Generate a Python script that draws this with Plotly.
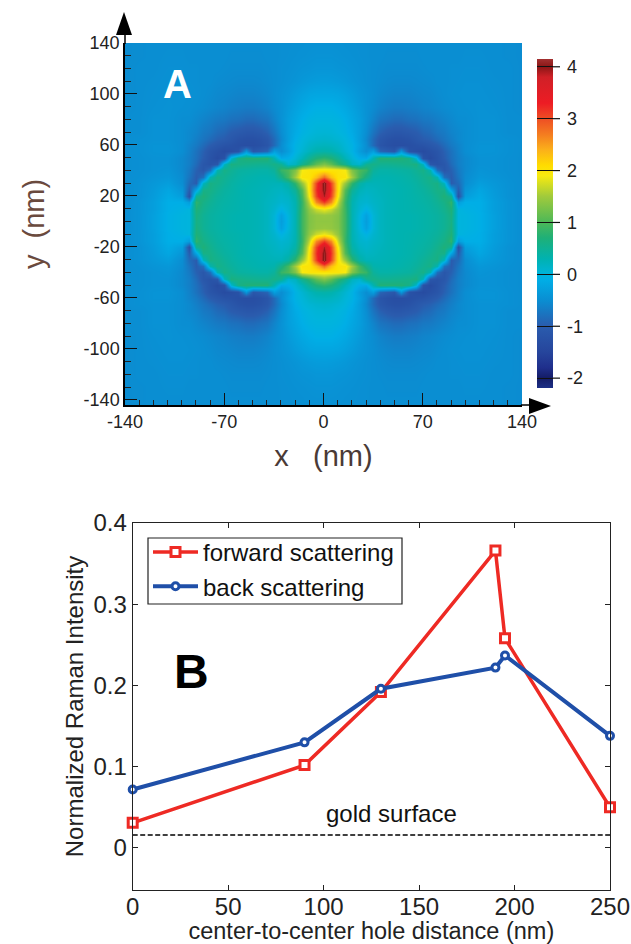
import plotly.graph_objects as go

W, H = 631, 944
FONT = "Liberation Sans"

# ---------- panel A: one quadrant of the map (mirrored in x and y)
xq = [0,5,10,15,20,25,30,35,40,45,50,55,60,65,70,75,80,85,90,95,100,110,120,130,140]
yq = [0,5,10,15,20,25,30,35,40,45,50,55,60,65,70,80,90,100,110,120,130,145]
zq = [
[1.40,1.40,1.30,0.90,0.28,0.00,-0.30,0.05,0.20,0.25,0.28,0.30,0.30,0.32,0.35,0.38,0.42,0.50,0.62,0.00,-0.02,-0.08,-0.28,-0.42,-0.50],
[1.45,1.42,1.32,0.90,0.28,0.02,-0.25,0.05,0.20,0.25,0.28,0.30,0.30,0.32,0.35,0.38,0.42,0.50,0.65,0.00,-0.02,-0.08,-0.28,-0.42,-0.50],
[1.85,1.70,1.40,0.88,0.28,0.08,-0.05,0.10,0.20,0.25,0.28,0.30,0.32,0.34,0.36,0.40,0.45,0.55,0.70,0.00,-0.05,-0.10,-0.30,-0.42,-0.50],
[3.10,2.60,1.65,0.85,0.30,0.12,0.08,0.15,0.20,0.25,0.28,0.30,0.32,0.35,0.38,0.42,0.50,0.60,0.80,-0.30,-0.10,-0.10,-0.30,-0.42,-0.50],
[3.90,3.05,1.90,0.95,0.36,0.18,0.12,0.18,0.22,0.26,0.28,0.30,0.33,0.36,0.40,0.45,0.55,0.70,0.50,-1.20,-0.30,-0.15,-0.33,-0.45,-0.50],
[4.10,3.15,2.00,1.05,0.48,0.25,0.18,0.20,0.24,0.26,0.28,0.30,0.33,0.38,0.42,0.50,0.60,0.60,-0.20,-1.00,-0.40,-0.20,-0.35,-0.45,-0.50],
[4.15,3.05,2.00,1.45,0.80,0.40,0.25,0.25,0.26,0.28,0.30,0.32,0.35,0.40,0.48,0.56,0.62,0.20,-1.00,-0.85,-0.50,-0.30,-0.38,-0.45,-0.50],
[2.80,2.30,2.00,2.00,1.50,0.95,0.60,0.33,0.30,0.30,0.32,0.34,0.38,0.44,0.52,0.60,0.30,-0.80,-1.00,-0.75,-0.52,-0.38,-0.42,-0.47,-0.50],
[2.00,2.00,2.00,1.90,1.30,1.00,0.85,0.45,0.36,0.36,0.38,0.40,0.42,0.50,0.60,0.30,-0.80,-1.10,-0.95,-0.70,-0.55,-0.42,-0.45,-0.48,-0.50],
[1.30,1.10,0.80,0.55,0.20,0.10,0.50,0.60,0.52,0.52,0.54,0.56,0.60,0.65,0.20,-1.10,-1.20,-1.10,-0.85,-0.65,-0.55,-0.45,-0.45,-0.48,-0.50],
[0.80,0.70,0.50,0.25,0.05,-0.10,-0.15,0.30,0.72,0.72,0.72,0.70,0.60,0.10,-1.20,-1.35,-1.20,-1.00,-0.80,-0.65,-0.55,-0.45,-0.45,-0.48,-0.50],
[0.35,0.32,0.22,0.08,-0.05,-0.30,-0.50,-0.30,-0.90,-1.00,-1.10,-0.40,-1.20,-1.30,-1.35,-1.25,-1.15,-0.95,-0.78,-0.62,-0.50,-0.42,-0.43,-0.47,-0.50],
[0.22,0.20,0.14,0.03,-0.05,-0.25,-0.50,-0.85,-1.15,-1.25,-1.30,-1.30,-1.28,-1.22,-1.18,-1.10,-1.00,-0.85,-0.70,-0.60,-0.50,-0.43,-0.43,-0.47,-0.50],
[0.12,0.10,0.06,0.00,-0.10,-0.30,-0.55,-0.85,-1.10,-1.20,-1.25,-1.25,-1.20,-1.10,-1.00,-0.95,-0.85,-0.75,-0.65,-0.55,-0.50,-0.45,-0.45,-0.47,-0.50],
[0.05,0.04,0.00,-0.05,-0.15,-0.30,-0.50,-0.75,-0.95,-1.05,-1.10,-1.10,-1.05,-1.00,-0.90,-0.85,-0.75,-0.70,-0.60,-0.55,-0.50,-0.45,-0.45,-0.50,-0.50],
[-0.02,-0.02,-0.04,-0.10,-0.20,-0.30,-0.45,-0.60,-0.75,-0.80,-0.85,-0.85,-0.80,-0.78,-0.72,-0.70,-0.65,-0.60,-0.55,-0.50,-0.50,-0.45,-0.45,-0.50,-0.50],
[-0.08,-0.08,-0.12,-0.18,-0.26,-0.35,-0.45,-0.52,-0.60,-0.65,-0.68,-0.68,-0.66,-0.64,-0.60,-0.58,-0.55,-0.52,-0.50,-0.48,-0.47,-0.45,-0.47,-0.50,-0.52],
[-0.20,-0.20,-0.22,-0.27,-0.33,-0.40,-0.45,-0.50,-0.55,-0.58,-0.60,-0.60,-0.60,-0.58,-0.56,-0.55,-0.52,-0.50,-0.48,-0.47,-0.46,-0.46,-0.48,-0.50,-0.52],
[-0.32,-0.33,-0.35,-0.38,-0.42,-0.45,-0.48,-0.50,-0.52,-0.54,-0.55,-0.55,-0.55,-0.54,-0.53,-0.52,-0.50,-0.50,-0.49,-0.48,-0.47,-0.47,-0.49,-0.50,-0.52],
[-0.40,-0.40,-0.42,-0.43,-0.45,-0.47,-0.48,-0.50,-0.51,-0.52,-0.52,-0.52,-0.52,-0.52,-0.51,-0.50,-0.50,-0.50,-0.49,-0.49,-0.48,-0.48,-0.50,-0.50,-0.52],
[-0.44,-0.44,-0.45,-0.46,-0.47,-0.48,-0.49,-0.50,-0.50,-0.51,-0.51,-0.51,-0.51,-0.51,-0.50,-0.50,-0.50,-0.50,-0.50,-0.50,-0.49,-0.49,-0.50,-0.51,-0.52],
[-0.47,-0.47,-0.47,-0.48,-0.48,-0.49,-0.49,-0.50,-0.50,-0.50,-0.50,-0.50,-0.50,-0.50,-0.50,-0.50,-0.50,-0.50,-0.50,-0.50,-0.50,-0.50,-0.50,-0.51,-0.52],
]
map_x = [-v for v in xq[:0:-1]] + xq
map_y = [-v for v in yq[:0:-1]] + yq
rows = [r[:0:-1] + r for r in zq]
map_z = rows[:0:-1] + rows

ZMIN, ZMAX = -2.19, 4.15
scale_stops = [
    (-2.19, "#1c2f86"), (-2.0, "#141c66"), (-1.8, "#1f2f8c"), (-1.5, "#26459c"), (-1.0, "#2a5cae"),
    (-0.5, "#0a8ed2"), (-0.1, "#00aee6"), (0.0, "#00b4dc"), (0.3, "#00b2b0"),
    (0.7, "#1eb078"), (1.0, "#4cb858"), (1.5, "#a0ca3c"), (1.9, "#f7ea10"),
    (2.1, "#ffdc00"), (2.4, "#fbb01a"), (2.7, "#f47c20"), (3.0, "#ee4e24"),
    (3.3, "#ed1c24"), (3.8, "#d02027"), (4.0, "#8a1616"), (4.15, "#a33030"),
]
colorscale = [[(v - ZMIN) / (ZMAX - ZMIN), c] for v, c in scale_stops]
bar_ticks = [-2, -1, 0, 1, 2, 3, 4]
x_ticks_a = [-140, -70, 0, 70, 140]
y_ticks_a = [-140, -100, -60, -20, 20, 60, 100, 140]

# ---------- panel B
distance = [0, 90, 130, 190, 195, 250]
forward = [0.031, 0.102, 0.192, 0.366, 0.258, 0.050]
back = [0.072, 0.130, 0.196, 0.222, 0.237, 0.138]
gold_x = [0, 250]
gold_y = [0.016, 0.016]


def px(x):
    return x / W


def py(y):
    return 1 - y / H


def tri(points):
    return "M " + " L ".join(f"{px(a):.5f},{py(b):.5f}" for a, b in points) + " Z"


BAR_TOP, BAR_BOT = 59, 388
BAR_L, BAR_R = 537, 553


def bar_y(v):
    return BAR_TOP + (ZMAX - v) / (ZMAX - ZMIN) * (BAR_BOT - BAR_TOP)


fig = go.Figure()
fig.add_trace(go.Heatmap(
    x=map_x, y=map_y, z=map_z, zmin=ZMIN, zmax=ZMAX, zsmooth="best",
    colorscale=colorscale, xaxis="x", yaxis="y", hoverinfo="skip",
    colorbar=dict(
        x=px(BAR_L), xanchor="left", xpad=0, y=py(BAR_TOP), yanchor="top", ypad=0,
        lenmode="pixels", len=BAR_BOT - BAR_TOP, thickness=BAR_R - BAR_L,
        outlinewidth=0, ticks="inside", ticklen=BAR_R - BAR_L, tickcolor="#111", tickwidth=1.2,
        tickvals=bar_ticks, ticktext=["\u00a0\u00a0" + str(v) for v in bar_ticks],
        tickfont=dict(family=FONT, size=18, color="#222"),
    ),
))

red, blue = "#ee2a24", "#1f4fa8"
fig.add_trace(go.Scatter(
    x=distance, y=forward, name="forward scattering", mode="lines+markers", xaxis="x2", yaxis="y2",
    cliponaxis=False, line=dict(color=red, width=3.5),
    marker=dict(symbol="square", size=9, color="white", line=dict(color=red, width=3)),
))
fig.add_trace(go.Scatter(
    x=distance, y=back, name="back scattering", mode="lines+markers", xaxis="x2", yaxis="y2",
    cliponaxis=False, line=dict(color=blue, width=4),
    marker=dict(symbol="circle", size=7, color="white", line=dict(color=blue, width=3)),
))
fig.add_trace(go.Scatter(
    x=gold_x, y=gold_y, mode="lines", xaxis="x2", yaxis="y2", showlegend=False,
    line=dict(color="black", width=1.7, dash="5px,2.5px"),
))

shapes = []
# axis arrows of panel A
shapes.append(dict(type="path", xref="paper", yref="paper", fillcolor="black", line=dict(width=0),
                   path=tri([(124, 12), (116, 35), (132, 35)])))
shapes.append(dict(type="path", xref="paper", yref="paper", fillcolor="black", line=dict(width=0),
                   path=tri([(551, 406), (529, 398), (529, 414)])))
shapes.append(dict(type="line", xref="paper", yref="paper", x0=px(125), x1=px(125), y0=py(34), y1=py(44),
                   line=dict(color="black", width=1.5)))
shapes.append(dict(type="line", xref="paper", yref="paper", x0=px(521), x1=px(531), y0=py(405), y1=py(405),
                   line=dict(color="black", width=1.5)))
# outer part of the colour bar ticks
for v in bar_ticks:
    shapes.append(dict(type="line", xref="paper", yref="paper", x0=px(BAR_R), x1=px(BAR_R + 7),
                       y0=py(bar_y(v)), y1=py(bar_y(v)), line=dict(color="#111", width=1.2)))
# legend frame
shapes.append(dict(type="rect", xref="paper", yref="paper", x0=px(148), x1=px(402), y0=py(538), y1=py(604),
                   line=dict(color="#222", width=1.2), fillcolor="rgba(0,0,0,0)"))

annotations = [
    dict(xref="paper", yref="paper", x=px(177), y=py(84), xanchor="center", yanchor="middle",
         text="<b>A</b>", showarrow=False, font=dict(family=FONT, size=40, color="white")),
    dict(xref="paper", yref="paper", x=px(191), y=py(671), xanchor="center", yanchor="middle",
         text="<b>B</b>", showarrow=False, font=dict(family=FONT, size=48, color="black")),
    dict(xref="x2", yref="y2", x=135.8, y=0.043, text="gold surface", showarrow=False,
         font=dict(family=FONT, size=24, color="#111")),
]

fig.update_layout(
    width=W, height=H, autosize=False, margin=dict(l=0, r=0, t=0, b=0, autoexpand=False),
    paper_bgcolor="white", plot_bgcolor="white",
    font=dict(family=FONT, color="#222"),
    xaxis=dict(domain=[px(125), px(522)], anchor="y", range=[-140, 140],
               tickmode="array", tickvals=x_ticks_a, ticktext=[str(v) for v in x_ticks_a],
               ticks="inside", ticklen=12, tickwidth=1.2, tickcolor="#111",
               minor=dict(dtick=10, tick0=-140, ticks="inside", ticklen=5, tickwidth=1, tickcolor="#222"),
               showgrid=False, zeroline=False, showline=True, linecolor="black", linewidth=1.5,
               tickfont=dict(size=18, color="#222"),
               title=dict(text="x\u00a0\u00a0\u00a0(nm)", font=dict(size=29, color="#4a3a36"), standoff=14)),
    yaxis=dict(domain=[py(405), py(43)], anchor="x", range=[-144, 140],
               tickmode="array", tickvals=y_ticks_a, ticktext=[str(v) for v in y_ticks_a],
               ticks="inside", ticklen=12, tickwidth=1.2, tickcolor="#111",
               minor=dict(dtick=10, tick0=-140, ticks="inside", ticklen=6, tickwidth=1, tickcolor="#222"),
               showgrid=False, zeroline=False, showline=True, linecolor="black", linewidth=1.5,
               tickfont=dict(size=18, color="#222"),
               title=dict(text="y\u00a0\u00a0(nm)", font=dict(size=29, color="#6a4a3e"), standoff=30)),
    xaxis2=dict(domain=[px(132.7), px(610)], anchor="y2", range=[0, 250], tick0=0, dtick=50,
                ticks="inside", ticklen=5, tickcolor="#222", mirror="ticks", ticklabelstandoff=-5,
                showgrid=False, zeroline=False, showline=True, linecolor="#222", linewidth=1.2,
                tickfont=dict(size=24, color="#222"),
                title=dict(text="center-to-center hole distance (nm)", font=dict(size=23.5, color="#222"), standoff=0)),
    yaxis2=dict(domain=[py(890), py(523)], anchor="x2", range=[-0.0517, 0.4], tick0=0, dtick=0.1,
                ticks="inside", ticklen=5, tickcolor="#222", mirror="ticks",
                showgrid=False, zeroline=False, showline=True, linecolor="#222", linewidth=1.2,
                tickformat="~g", tickfont=dict(size=24, color="#222"),
                title=dict(text="Normalized Raman Intensity", font=dict(size=24, color="#222"), standoff=3)),
    legend=dict(x=px(148), y=py(530), xanchor="left", yanchor="top", bgcolor="rgba(0,0,0,0)",
                borderwidth=0, font=dict(family=FONT, size=24, color="#111"),
                itemwidth=45, tracegroupgap=0),
    shapes=shapes, annotations=annotations,
)

fig.write_html("out.html", post_script="document.body.style.margin='0';",
               config={"displayModeBar": False})
